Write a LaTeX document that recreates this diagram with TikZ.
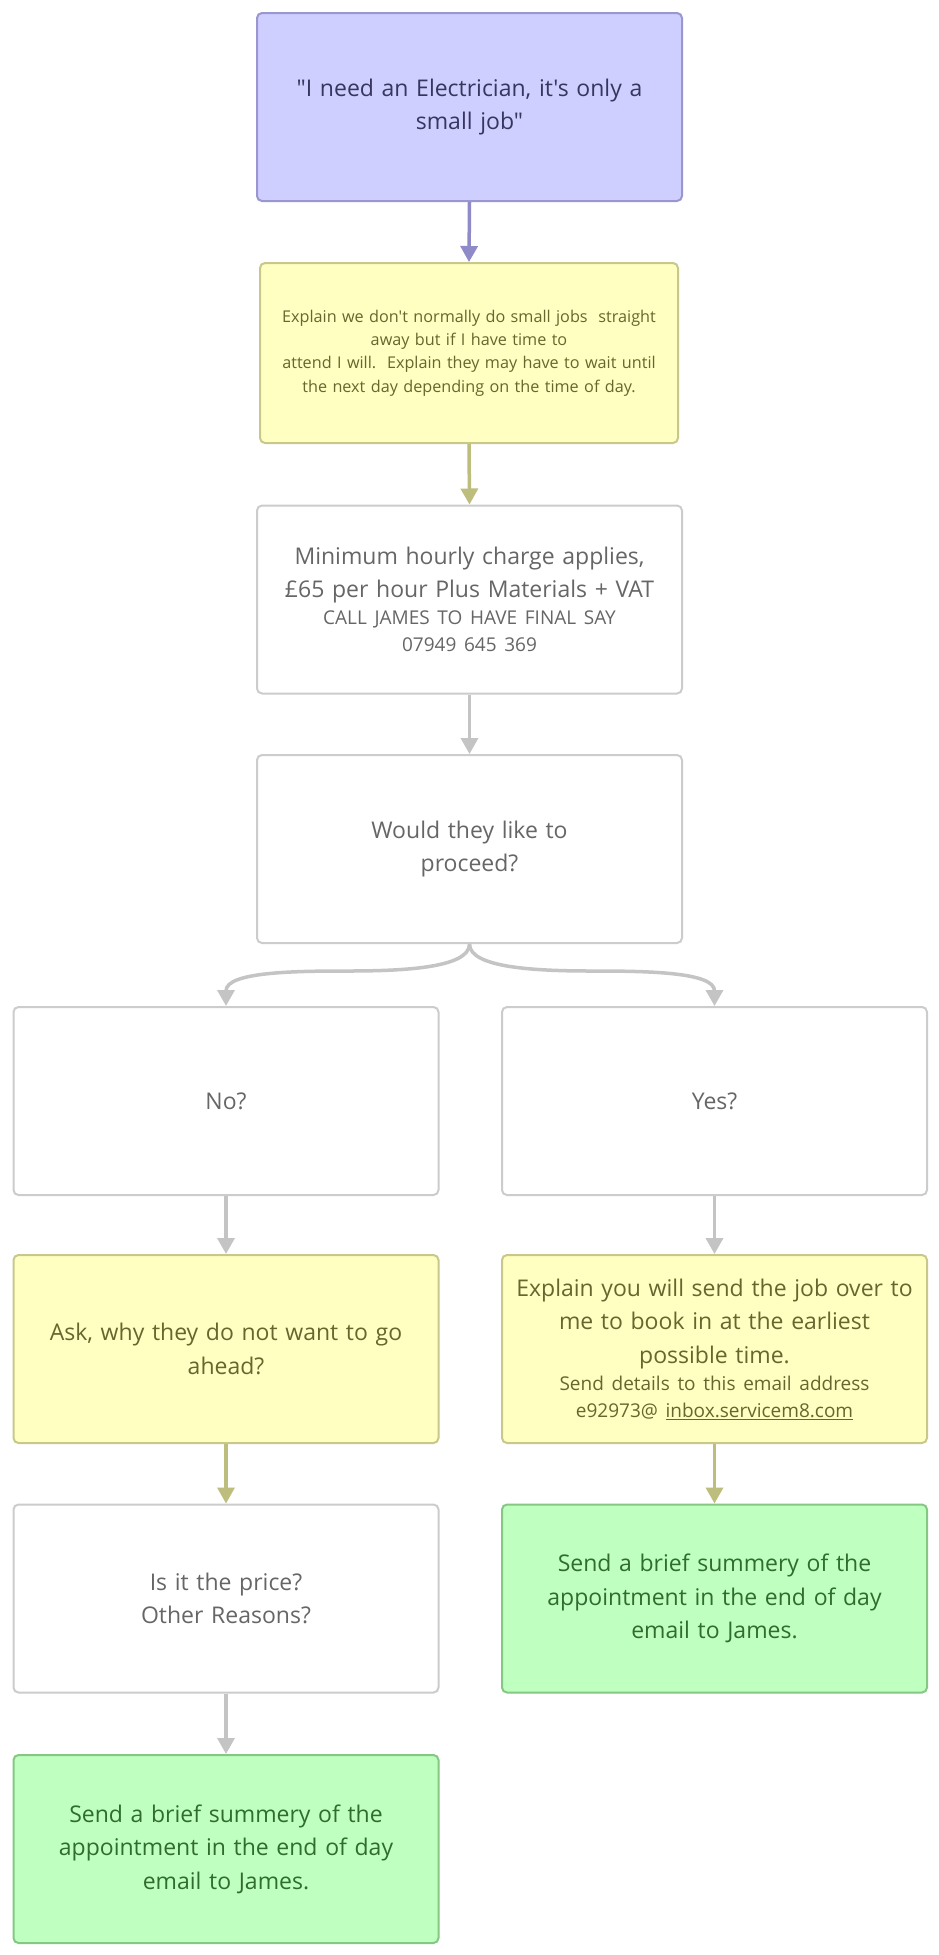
\documentclass[tikz,border=0pt]{standalone}
\usepackage{fontspec}
\setmainfont{Open Sans}[Ligatures=TeXOff,WordSpace={1.15,1,0.5}]
\usetikzlibrary{arrows.meta,calc}
\frenchspacing
\definecolor{pfill}{HTML}{CFCFFF}
\definecolor{pdraw}{HTML}{9A96D0}
\definecolor{ptext}{HTML}{36365E}
\definecolor{parrow}{HTML}{8F8AC8}
\definecolor{yfill}{HTML}{FFFFC2}
\definecolor{ydraw}{HTML}{C8C88A}
\definecolor{ytext}{HTML}{66662E}
\definecolor{yarrow}{HTML}{BDBD7E}
\definecolor{wdraw}{HTML}{CCCCCC}
\definecolor{wtext}{HTML}{666666}
\definecolor{warrow}{HTML}{C4C4C4}
\definecolor{gfill}{HTML}{BFFFBF}
\definecolor{gdraw}{HTML}{84C884}
\definecolor{gtext}{HTML}{306B30}
\newcommand{\bigf}{\fontsize{23}{33.5}\selectfont}
\newcommand{\smallf}{\fontsize{19}{27}\selectfont}
\newcommand{\tinyf}{\fontsize{16.2}{23.3}\selectfont}
\begin{document}
\begin{tikzpicture}[x=1pt,y=-1pt,
  box/.style={draw, rounded corners=5pt, line width=2pt, minimum width=425pt,
    minimum height=188pt, text width=416pt, align=center, inner xsep=4pt, inner ysep=3pt, font=\bigf},
  pbox/.style={box, fill=pfill, draw=pdraw, text=ptext},
  ybox/.style={box, fill=yfill, draw=ydraw, text=ytext},
  wbox/.style={box, fill=white, draw=wdraw, text=wtext},
  gbox/.style={box, fill=gfill, draw=gdraw, text=gtext},
  conn/.style={line width=3.5pt, -{Triangle[length=16pt,width=17pt]}},
  parr/.style={conn, draw=parrow},
  yarr/.style={conn, draw=yarrow},
  warr/.style={conn, draw=warrow}]
\useasboundingbox (0,0) rectangle (938,1955);
\fill[white] (0,0) rectangle (938,1955);

\node[pbox] (n1) at (469.5,107) {"I need an Electrician, it's only a\\ small job"\par};
\node[ybox, minimum width=418pt, minimum height=180pt, text width=408pt, font=\tinyf] (n2) at (469,353)
  {Explain we don't normally do small jobs~ straight\\ away but if I have time to\\ attend I will.~ Explain they may have to wait until\\ the next day depending on the time of day.\par};
\node[wbox] (n3) at (469.5,599.5)
  {Minimum hourly charge applies,\\ £65 per hour Plus Materials + VAT\par
   \smallf CALL JAMES TO HAVE FINAL SAY\\ 07949 645 369\par};
\node[wbox] (n4) at (469.5,849) {Would they like to\\ proceed?\par};
\node[wbox] (no) at (226,1101) {No?};
\node[wbox] (yes) at (714.5,1101) {Yes?};
\node[ybox] (ask) at (226,1349) {Ask, why they do not want to go\\ ahead?\par};
\node[ybox] (expl) at (714.5,1349)
  {Explain you will send the job over to\\ me to book in at the earliest\\ possible time.\par
   \smallf Send details to this email address\\ e92973@ \underline{inbox.servicem8.com}\par};
\node[wbox] (price) at (226,1598.5) {Is it the price?\\ Other Reasons?\par};
\node[gbox] (sendR) at (714.5,1598.5) {Send a brief summery of the\\ appointment in the end of day\\ email to James.\par};
\node[gbox] (sendL) at (226,1849) {Send a brief summery of the\\ appointment in the end of day\\ email to James.\par};

\draw[parr] (n1.south) -- (n2.north);
\draw[yarr] (n2.south) -- (n3.north);
\draw[warr] (n3.south) -- (n4.north);
\coordinate (forkL) at ($(n4.south)!0.5!(no.north)+(0,-4)$);
\coordinate (forkR) at ($(n4.south)!0.5!(yes.north)+(0,-4)$);
\draw[warr] (n4.south) .. controls +(0,24) and +(55,0) .. (forkL)
  .. controls +(-55,0) and +(0,-34) .. (no.north);
\draw[warr] (n4.south) .. controls +(0,24) and +(-55,0) .. (forkR)
  .. controls +(55,0) and +(0,-34) .. (yes.north);
\draw[warr] (no.south) -- (ask.north);
\draw[warr] (yes.south) -- (expl.north);
\draw[yarr] (ask.south) -- (price.north);
\draw[yarr] (expl.south) -- (sendR.north);
\draw[warr] (price.south) -- (sendL.north);
\end{tikzpicture}
\end{document}
